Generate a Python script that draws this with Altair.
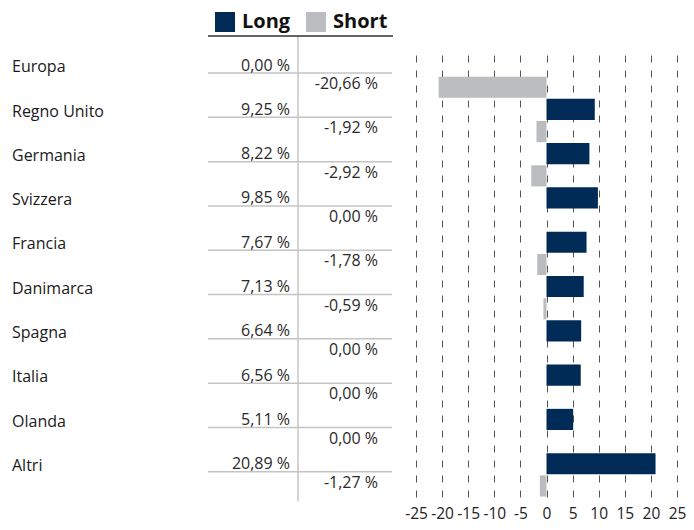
import altair as alt
import pandas as pd

cats = ["Europa", "Regno Unito", "Germania", "Svizzera", "Francia",
        "Danimarca", "Spagna", "Italia", "Olanda", "Altri"]
long_vals = [0.00, 9.25, 8.22, 9.85, 7.67, 7.13, 6.64, 6.56, 5.11, 20.89]
short_vals = [-20.66, -1.92, -2.92, 0.00, -1.78, -0.59, 0.00, 0.00, 0.00, -1.27]
types = ["Long", "Short"]
colors = ["#002b57", "#bbbcc0"]
ticks = [-25, -20, -15, -10, -5, 0, 5, 10, 15, 20, 25]

FONT = "Open Sans"


def fmt(v):
    return f"{v:.2f}".replace(".", ",") + " %"


rows = []
for c, lv, sv in zip(cats, long_vals, short_vals):
    rows.append({"cat": c, "type": "Long", "value": lv})
    rows.append({"cat": c, "type": "Short", "value": sv})
bars_df = pd.DataFrame(rows)

table_df = pd.DataFrame({
    "cat": cats,
    "long_lbl": [fmt(v) for v in long_vals],
    "short_lbl": [fmt(v) for v in short_vals],
})
one = pd.DataFrame({"k": [0]})

yscale = alt.Scale(domain=cats, paddingInner=0, paddingOuter=0)


def ypos(bp):
    return alt.Y("cat:N", scale=yscale, axis=None, bandPosition=bp)


bars = alt.Chart(bars_df).mark_bar().encode(
    x=alt.X("value:Q",
            scale=alt.Scale(domain=[-25, 25], nice=False, zero=False),
            axis=alt.Axis(values=ticks, title=None, grid=True, gridDash=[7, 8],
                          gridColor="#555555", gridWidth=1, domain=False,
                          ticks=False, labelFontSize=15.5, labelFont=FONT,
                          labelColor="#222222", labelPadding=9,
                          labelFlush=False, labelOverlap=False,
                          labelExpr="datum.value + ''")),
    y=alt.Y("cat:N", scale=yscale, axis=None),
    yOffset=alt.YOffset("type:N", scale=alt.Scale(domain=types, paddingInner=0.05,
                                                  paddingOuter=0.02)),
    color=alt.Color("type:N", scale=alt.Scale(domain=types, range=colors),
                    legend=alt.Legend(orient="none", legendX=-201, legendY=-42,
                                      direction="horizontal", title=None,
                                      symbolType="square", symbolSize=400,
                                      symbolStrokeWidth=0, symbolOpacity=1,
                                      labelFontSize=20, labelFontWeight="bold",
                                      labelFont=FONT, labelColor="#111111",
                                      labelOffset=7, columnPadding=15, padding=0)),
)

country = alt.Chart(table_df).mark_text(
    align="left", baseline="middle", fontSize=16, font=FONT, color="#1a1a1a"
).encode(x=alt.value(-404), y=ypos(0.30), text="cat:N")

long_txt = alt.Chart(table_df).mark_text(
    align="right", baseline="middle", fontSize=16, font=FONT, color="#2a2a2a"
).encode(x=alt.value(-126), y=ypos(0.26), text="long_lbl:N")

short_txt = alt.Chart(table_df).mark_text(
    align="right", baseline="middle", fontSize=16, font=FONT, color="#2a2a2a"
).encode(x=alt.value(-38), y=ypos(0.68), text="short_lbl:N")

hlines = alt.Chart(table_df).mark_rule(color="#c4c4c4", strokeWidth=1.5).encode(
    y=ypos(0.43), x=alt.value(-208), x2=alt.value(-24))

vline = alt.Chart(one).mark_rule(color="#c4c4c4", strokeWidth=1.5).encode(
    x=alt.value(-118), y=alt.value(-18), y2=alt.value(447))

header = alt.Chart(one).mark_rule(color="#333333", strokeWidth=1.5).encode(
    y=alt.value(-18), x=alt.value(-208), x2=alt.value(-23))

chart = alt.layer(hlines, vline, header, bars, country, long_txt, short_txt).properties(
    width=261, height=443,
    autosize=alt.AutoSizeParams(type="none"),
    padding={"left": 408, "top": 46, "right": 9, "bottom": 25},
).configure_view(stroke=None)

chart.save("out.html", embed_options={"renderer": "svg", "actions": False})
